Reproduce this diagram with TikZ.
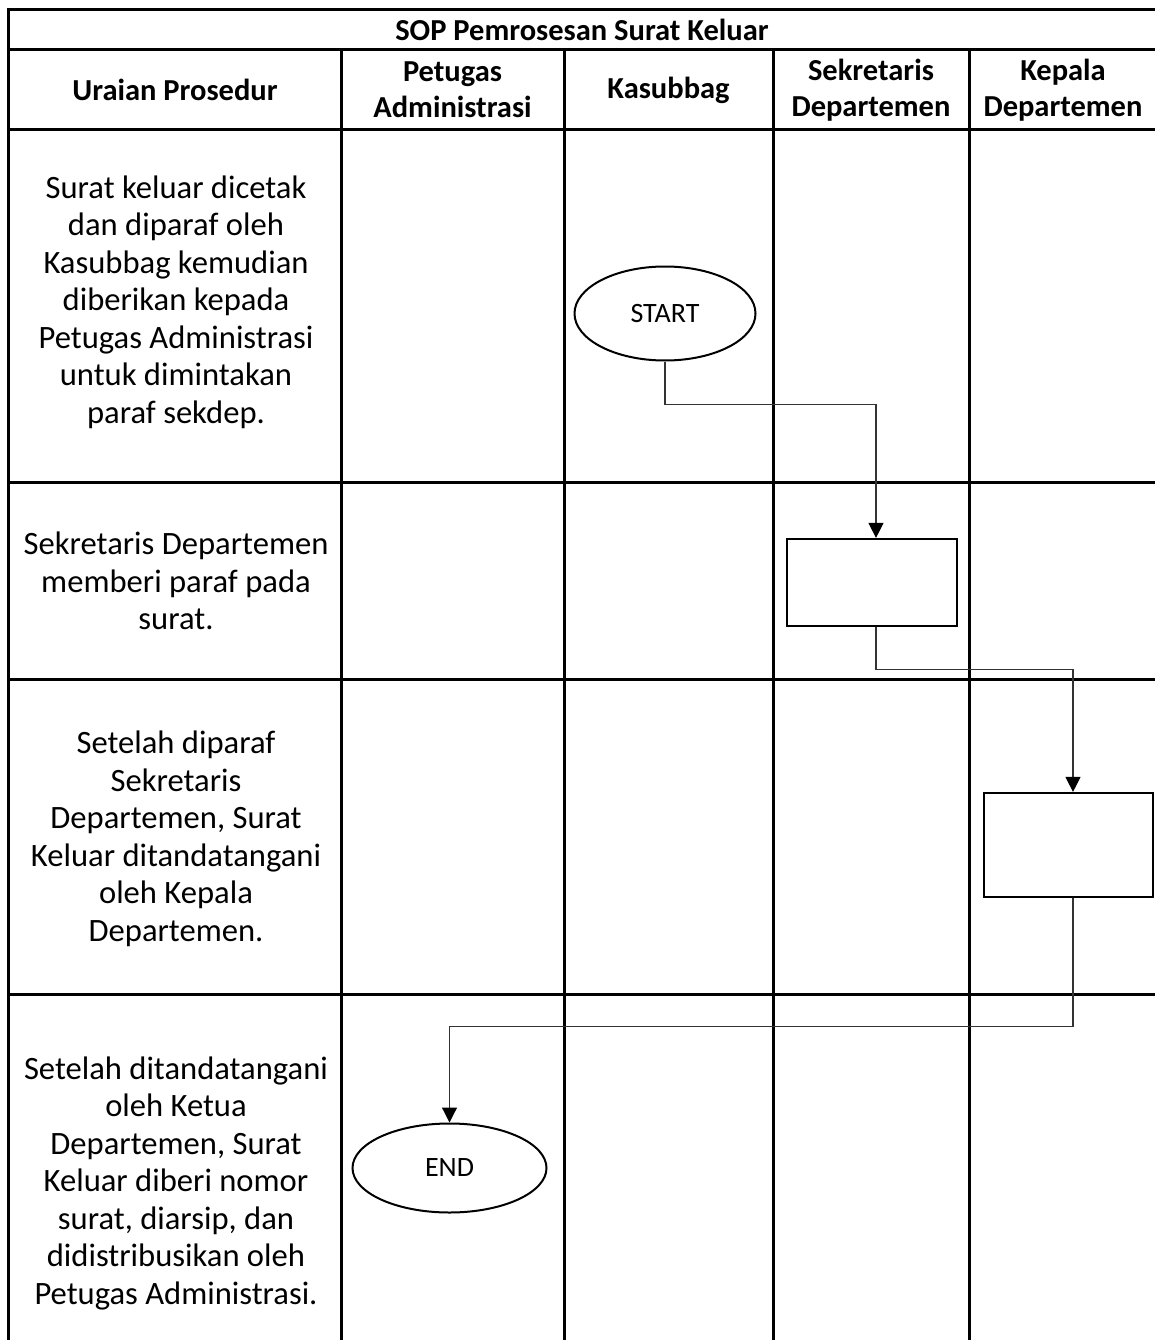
\documentclass[tikz,border=0pt]{standalone}
\usepackage{fontspec}
\setmainfont{Carlito}
\usetikzlibrary{arrows.meta,shapes.geometric}
\begin{document}
\begin{tikzpicture}[x=1pt,y=-1pt,
  gridline/.style={line width=3pt},
  celltext/.style={align=center,inner sep=0pt,font=\fontsize{32.6}{37.5}\selectfont},
  headtext/.style={align=center,inner sep=0pt,font=\fontsize{30.5}{36}\selectfont\bfseries},
  terminal/.style={ellipse,draw,line width=2pt,inner sep=0pt,font=\fontsize{28}{30}\selectfont},
  process/.style={rectangle,draw,line width=2.2pt,inner sep=0pt},
  flow/.style={line width=1.2pt,draw=black!80,-{Triangle[width=15pt,length=15pt,fill=black,color=black]}}]

% page area
\fill[white] (0,0) rectangle (1155,1340);
\useasboundingbox (0,0) rectangle (1155,1340);

% table rules
\foreach \y in {10,50,130,482,679,994}
  \draw[gridline] (6.5,\y) -- (1162,\y);
\draw[gridline] (8,8.5) -- (8,1346);
\draw[gridline] (1159,8.5) -- (1159,1346);
\foreach \x in {341,564,773,969}
  \draw[gridline] (\x,50) -- (\x,1346);

% title and column headers
\node[headtext] (title) at (582,30) {SOP Pemrosesan Surat Keluar};
\node[headtext] (hUraian) at (175,90) {Uraian Prosedur};
\node[headtext] (hPetugas) at (452.5,90) {Petugas\\Administrasi};
\node[headtext] (hKasubbag) at (668.5,90) {Kasubbag};
\node[headtext] (hSekdep) at (871,90) {Sekretaris\\Departemen};
\node[headtext] (hKadep) at (1063,90) {Kepala\\Departemen};

% procedure descriptions
\node[celltext] (p1) at (176,302) {Surat keluar dicetak\\dan diparaf oleh\\Kasubbag kemudian\\diberikan kepada\\Petugas Administrasi\\untuk dimintakan\\paraf sekdep.};
\node[celltext] (p2) at (176,581) {Sekretaris Departemen\\memberi paraf pada\\surat.};
\node[celltext] (p3) at (176,839) {Setelah diparaf\\Sekretaris\\Departemen, Surat\\Keluar ditandatangani\\oleh Kepala\\Departemen.};
\node[celltext] (p4) at (176,1183) {Setelah ditandatangani\\oleh Ketua\\Departemen, Surat\\Keluar diberi nomor\\surat, diarsip, dan\\didistribusikan oleh\\Petugas Administrasi.};

% flow symbols
\node[terminal,minimum width=181pt,minimum height=94pt] (start) at (665,313.5) {START};
\node[process,minimum width=170pt,minimum height=87pt] (sekdep) at (872,582.5) {};
\node[process,minimum width=169pt,minimum height=104pt] (kadep) at (1068.5,845) {};
\node[terminal,minimum width=194pt,minimum height=89pt] (end) at (449.5,1168) {END};

% connectors
\draw[flow] (start.south) -- ++(0,43) -| ([xshift=4pt]sekdep.north);
\draw[flow] ([xshift=4pt]sekdep.south) -- ++(0,42) -| ([xshift=4.5pt]kadep.north);
\draw[flow] ([xshift=4.5pt]kadep.south) -- ++(0,128) -| (end.north);
\end{tikzpicture}
\end{document}
